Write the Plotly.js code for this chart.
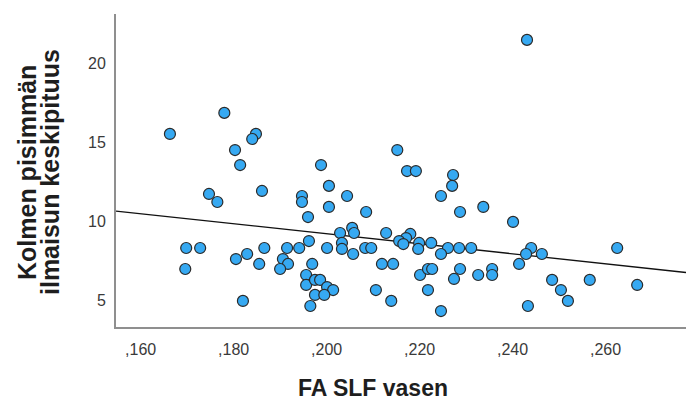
<!DOCTYPE html>
<html>
<head>
<meta charset="utf-8">
<script src="https://cdn.plot.ly/plotly-3.0.1.min.js"></script>
<style>
  html, body { margin: 0; padding: 0; background: #fff; }
  #chart { width: 686px; height: 403px; }
</style>
</head>
<body>
<div id="chart"></div>
<script>
// FA SLF vasen (x) values
const faSlfVasen = [
  0.1663, 0.1780, 0.1848, 0.1840, 0.1803, 0.1814, 0.1988, 0.2152, 0.2173, 0.2192,
  0.2431, 0.2272, 0.2270, 0.2005, 0.2246, 0.1747, 0.1765, 0.1861, 0.1947, 0.1947,
  0.2044, 0.2005, 0.2337, 0.1960, 0.2085, 0.2287, 0.2401, 0.2029, 0.2055, 0.2059,
  0.2128, 0.2180, 0.2171, 0.2156, 0.2165, 0.2199, 0.2197, 0.2225, 0.2261, 0.2285,
  0.2311, 0.2246, 0.2440, 0.2429, 0.2463, 0.2625, 0.2414, 0.1698, 0.1728, 0.1696,
  0.1805, 0.1829, 0.1866, 0.1855, 0.1915, 0.1941, 0.1962, 0.1906, 0.1917, 0.1900,
  0.1969, 0.1956, 0.1956, 0.1975, 0.1986, 0.2001, 0.2014, 0.1975, 0.1995, 0.1965,
  0.1820, 0.2001, 0.2033, 0.2033, 0.2057, 0.2083, 0.2096, 0.2119, 0.2143, 0.2106,
  0.2139, 0.2201, 0.2218, 0.2227, 0.2287, 0.2274, 0.2218, 0.2246, 0.2326, 0.2356,
  0.2356, 0.2433, 0.2485, 0.2504, 0.2519, 0.2566, 0.2668
];
// Kolmen pisimmän ilmaisun keskipituus (y) values
const keskipituus = [
  15.51, 16.84, 15.51, 15.19, 14.49, 13.54, 13.54, 14.49, 13.16, 13.16,
  21.46, 12.91, 12.22, 12.22, 11.58, 11.71, 11.20, 11.90, 11.58, 11.20,
  11.58, 10.89, 10.89, 10.25, 10.57, 10.57, 9.94, 9.24, 9.56, 9.24,
  9.24, 9.18, 8.92, 8.73, 8.54, 8.61, 8.23, 8.61, 8.29, 8.29,
  8.29, 7.91, 8.29, 7.91, 7.91, 8.29, 7.28, 8.29, 8.29, 6.96,
  7.59, 7.91, 8.29, 7.28, 8.29, 8.29, 8.73, 7.59, 7.28, 6.96,
  7.28, 6.58, 5.95, 6.27, 6.27, 5.82, 5.63, 5.32, 5.32, 4.62,
  4.94, 8.29, 8.61, 8.23, 7.91, 8.29, 8.29, 7.28, 7.28, 5.63,
  4.94, 6.58, 6.96, 6.96, 6.96, 6.33, 5.63, 4.30, 6.58, 6.96,
  6.58, 4.62, 6.27, 5.63, 4.94, 6.27, 5.95
];
// Fit line (at the axis ends)
const fitX = [0.1547, 0.2773];
const fitY = [10.63, 6.74];

const xTickVals = [0.16, 0.18, 0.20, 0.22, 0.24, 0.26];
const xTickText = [",160", ",180", ",200", ",220", ",240", ",260"];
const yTickVals = [5, 10, 15, 20];
const yTickText = ["5", "10", "15", "20"];

const xTitle = "FA SLF vasen";
const yTitleLine1 = "Kolmen pisimmän";
const yTitleLine2 = "ilmaisun keskipituus";

const FONT = "Liberation Sans, Arial, sans-serif";

const traces = [
  {
    type: "scatter", mode: "lines",
    x: fitX, y: fitY,
    line: { color: "#111", width: 1.3 },
    hoverinfo: "skip", showlegend: false
  },
  {
    type: "scatter", mode: "markers",
    x: faSlfVasen, y: keskipituus,
    marker: { size: 11, color: "#36a9f2", line: { color: "#2a2a2a", width: 1.2 } },
    showlegend: false
  }
];

const layout = {
  width: 686, height: 403,
  margin: { l: 116, r: 0, t: 14, b: 76, pad: 0 },
  paper_bgcolor: "#fff", plot_bgcolor: "#fff",
  font: { family: FONT, color: "#333" },
  showlegend: false,
  xaxis: {
    range: [0.1547, 0.2773],
    showgrid: false, zeroline: false,
    showline: true, linecolor: "#8f8f8f", linewidth: 2,
    ticks: "outside", ticklen: 7, tickcolor: "rgba(0,0,0,0)",
    tickvals: xTickVals, ticktext: xTickText,
    tickfont: { family: FONT, size: 16, color: "#3a3a3a" }
  },
  yaxis: {
    range: [3.29, 23.1],
    showgrid: false, zeroline: false,
    showline: true, linecolor: "#8f8f8f", linewidth: 2,
    ticks: "outside", ticklen: 5, tickcolor: "rgba(0,0,0,0)",
    tickvals: yTickVals, ticktext: yTickText,
    tickfont: { family: FONT, size: 16, color: "#3a3a3a" }
  },
  annotations: [
    {
      xref: "paper", yref: "paper",
      x: (372.5 - 116) / 570, y: (327 - 388) / 313,
      xanchor: "center", yanchor: "middle",
      text: "<b>" + xTitle + "</b>", showarrow: false,
      font: { family: FONT, size: 23, color: "#1e1e1e" }
    },
    {
      xref: "paper", yref: "paper",
      x: (27 - 116) / 570, y: (327 - 172) / 313,
      xanchor: "center", yanchor: "middle",
      text: "<b>" + yTitleLine1 + "</b>", showarrow: false, textangle: -90,
      font: { family: FONT, size: 25, color: "#1e1e1e" }
    },
    {
      xref: "paper", yref: "paper",
      x: (50 - 116) / 570, y: (327 - 172) / 313,
      xanchor: "center", yanchor: "middle",
      text: "<b>" + yTitleLine2 + "</b>", showarrow: false, textangle: -90,
      font: { family: FONT, size: 25, color: "#1e1e1e" }
    }
  ]
};

Plotly.newPlot("chart", traces, layout, { displayModeBar: false, staticPlot: true });
</script>
</body>
</html>
